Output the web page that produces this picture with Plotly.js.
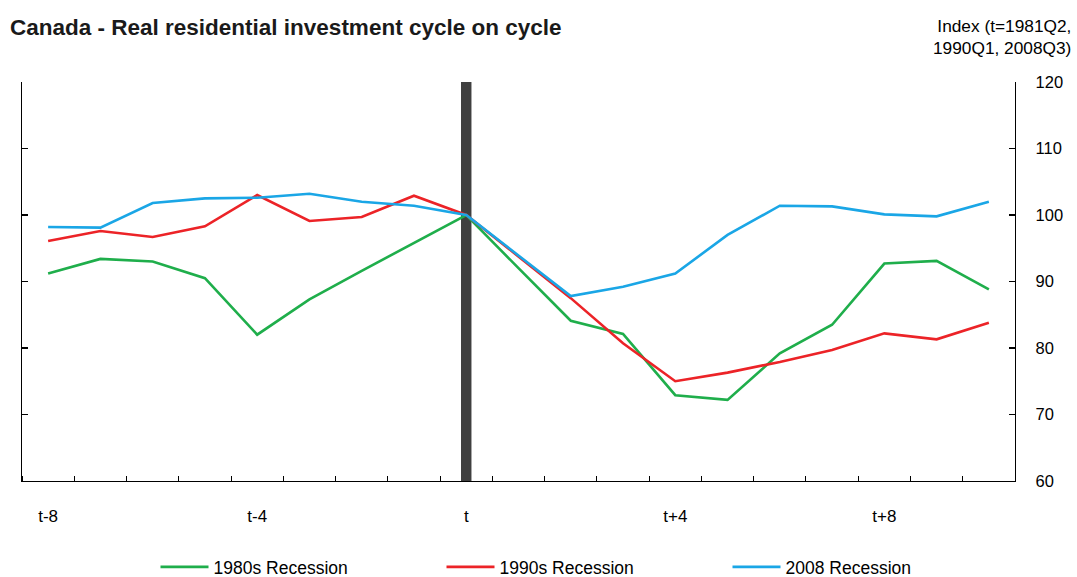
<!DOCTYPE html>
<html>
<head>
<meta charset="utf-8">
<script src="https://cdn.plot.ly/plotly-3.0.1.min.js"></script>
<style>html,body{margin:0;padding:0;background:#fff;}#chart{width:1077px;height:577px;}</style>
</head>
<body>
<div id="chart"></div>
<script>
// Quarters relative to the cycle peak t
var quarters = [-8,-7,-6,-5,-4,-3,-2,-1,0,1,2,3,4,5,6,7,8,9,10];
var tickPositions = [-8,-4,0,4,8];
var tickLabels = ['t-8','t-4','t','t+4','t+8'];

var recession1980s = [91.2,93.4,93.0,90.5,82.0,87.3,91.6,95.8,100,92.0,84.1,82.1,72.9,72.2,79.2,83.5,92.7,93.1,88.8];
var recession1990s = [96.1,97.6,96.7,98.3,103.0,99.1,99.7,102.9,100,93.8,87.5,80.7,75.0,76.3,77.9,79.7,82.2,81.3,83.8];
var recession2008  = [98.2,98.1,101.8,102.5,102.6,103.2,102.0,101.4,100,93.9,87.8,89.2,91.2,97.0,101.4,101.3,100.1,99.8,102.0];

var seriesNames = ['1980s Recession','1990s Recession','2008 Recession'];
var seriesColors = ['#1fae4b','#ec2327','#1aa6e6'];

var peakQuarter = 0;   // position of the vertical marker (t)
var markerHalfWidth = 0.1;
var yMin = 60, yMax = 120;

var font = 'Liberation Sans, Arial, sans-serif';

var values = [recession1980s, recession1990s, recession2008];
var traces = values.map(function(v, i){
  return {
    x: quarters, y: v, type: 'scatter', mode: 'lines', name: seriesNames[i],
    line: {color: seriesColors[i], width: 2.6}
  };
});

var layout = {
  width: 1077, height: 577,
  margin: {l: 22, r: 62, t: 82, b: 96, autoexpand: false},
  paper_bgcolor: '#ffffff', plot_bgcolor: '#ffffff',
  font: {family: font, size: 16, color: '#000'},
  title: {
    text: '<b>Canada - Real residential investment cycle on cycle</b>',
    font: {family: font, size: 22.5, color: '#1a1a1a'},
    x: 10/1077, xanchor: 'left', xref: 'container',
    y: 1 - 27/577, yanchor: 'middle', yref: 'container'
  },
  xaxis: {
    range: [-8.5, 10.5], showgrid: false, zeroline: false,
    showline: true, linecolor: '#000', linewidth: 1.3, mirror: false,
    tickmode: 'array', tickvals: tickPositions, ticktext: tickLabels,
    ticks: '', ticklabelstandoff: 19,
    tickfont: {family: font, size: 17, color: '#000'},
    minor: {ticks: 'inside', ticklen: 5, tickwidth: 1, tickcolor: '#000', tickmode: 'linear', tick0: 0.5, dtick: 1, showgrid: false}
  },
  yaxis: {
    range: [yMin, yMax], dtick: 10, side: 'right', showgrid: false, zeroline: false,
    showline: true, linecolor: '#000', linewidth: 1.3, mirror: 'ticks',
    ticks: 'inside', ticklen: 6, tickwidth: 1.3, tickcolor: '#000',
    ticklabelstandoff: 16,
    tickfont: {family: font, size: 16.5, color: '#000'}
  },
  shapes: [{
    type: 'rect', xref: 'x', yref: 'y', layer: 'below',
    x0: peakQuarter - markerHalfWidth, x1: peakQuarter + markerHalfWidth,
    y0: yMin, y1: yMax, fillcolor: '#404040', line: {width: 0}
  }],
  annotations: [{
    text: 'Index (t=1981Q2,<br>1990Q1, 2008Q3)',
    xref: 'paper', yref: 'paper', x: 1 + 58/993, y: 1 + 45/399,
    xanchor: 'right', yanchor: 'middle', align: 'right', showarrow: false,
    font: {family: font, size: 17.3, color: '#000'}
  }],
  showlegend: true,
  legend: {
    orientation: 'h', x: 0.5 + 66/993, xanchor: 'center', y: -86/399, yanchor: 'middle',
    font: {family: font, size: 17.5, color: '#000'},
    entrywidth: 223, itemwidth: 48, traceorder: 'normal', bgcolor: 'rgba(0,0,0,0)'
  }
};

Plotly.newPlot('chart', traces, layout, {displayModeBar: false, staticPlot: true});
</script>
</body>
</html>
